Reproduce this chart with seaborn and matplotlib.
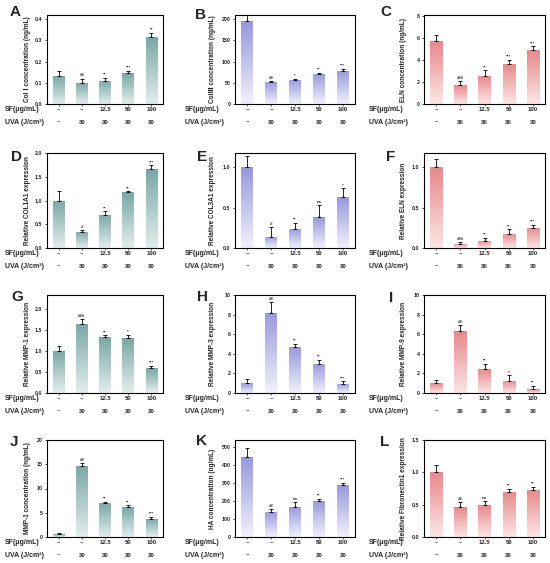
import numpy as np
import pandas as pd
import matplotlib
matplotlib.use("Agg")
import matplotlib.pyplot as plt
import seaborn as sns
from matplotlib.colors import LinearSegmentedColormap
from matplotlib.ticker import FormatStrFormatter

# ── Data ───────────────────────────────────────────────────────────────────
groups = ["ctrl", "uva", "sf12.5", "sf50", "sf100"]
sf_doses = ["–", "–", "12.5", "50", "100"]
uva_doses = ["–", "30", "30", "30", "30"]

colI_mean = [0.13, 0.10, 0.11, 0.145, 0.315]
colI_sd = [0.025, 0.02, 0.012, 0.012, 0.02]
colI_sig = ["", "##", "**", "***", "**"]

colIII_mean = [195, 52, 57, 71, 79]
colIII_sd = [15, 3, 3, 3, 4]
colIII_sig = ["", "##", "*", "**", "***"]

eln_mean = [5.7, 1.7, 2.55, 3.65, 4.9]
eln_sd = [0.55, 0.35, 0.5, 0.4, 0.35]
eln_sig = ["", "###", "**", "***", "***"]

col1a1_mean = [1.0, 0.34, 0.70, 1.17, 1.66]
col1a1_sd = [0.2, 0.03, 0.07, 0.02, 0.08]
col1a1_sig = ["", "#", "**", "**", "***"]

col3a1_mean = [1.0, 0.14, 0.24, 0.38, 0.63]
col3a1_sd = [0.14, 0.12, 0.07, 0.15, 0.11]
col3a1_sig = ["", "#", "**", "ns", "*"]

eln_rel_mean = [1.0, 0.05, 0.09, 0.18, 0.25]
eln_rel_sd = [0.1, 0.02, 0.04, 0.05, 0.04]
eln_rel_sig = ["", "###", "**", "**", "***"]

mmp1_mean = [1.0, 1.65, 1.32, 1.30, 0.59]
mmp1_sd = [0.12, 0.1, 0.05, 0.08, 0.05]
mmp1_sig = ["", "###", "**", "*", "***"]

mmp3_mean = [1.0, 8.2, 4.7, 3.0, 0.95]
mmp3_sd = [0.45, 1.1, 0.3, 0.35, 0.25]
mmp3_sig = ["", "##", "**", "**", "***"]

mmp9_mean = [1.0, 6.3, 2.4, 1.25, 0.4]
mmp9_sd = [0.35, 0.6, 0.55, 0.55, 0.35]
mmp9_sig = ["", "##", "**", "*", "**"]

mmp1_conc_mean = [0.6, 14.7, 7.0, 6.1, 3.8]
mmp1_conc_sd = [0.2, 0.5, 0.3, 0.4, 0.3]
mmp1_conc_sig = ["", "##", "**", "**", "***"]

ha_mean = [445, 140, 168, 203, 287]
ha_sd = [50, 15, 25, 8, 15]
ha_sig = ["", "##", "ns", "**", "***"]

fn1_mean = [1.0, 0.46, 0.49, 0.70, 0.73]
fn1_sd = [0.12, 0.08, 0.06, 0.04, 0.04]
fn1_sig = ["", "##", "ns", "**", "**"]

ylabels = [
    "Col Ⅰ concentration (ng/mL)", "ColⅢ concentration (ng/mL)", "ELN concentration (ng/mL)",
    "Relative COL1A1 expression", "Relative COL3A1 expression", "Relative ELN expression",
    "Relative MMP-1 expression", "Relative MMP-3 expression", "Relative MMP-9 expression",
    "MMP-1 concentration (ng/mL)", "HA concentration (ng/mL)", "Relative Fibronectin1 expression",
]
letters = list("ABCDEFGHIJKL")

# ── Style ──────────────────────────────────────────────────────────────────
sns.set_style("ticks")
plt.rcParams["font.family"] = ["Liberation Sans", "DejaVu Sans"]
plt.rcParams["font.weight"] = "bold"

teal = ("#e3eeed", "#79a7a5")
purple = ("#f1f1fc", "#9898da")
pink = ("#fce6e6", "#e5898b")
col_colors = [teal, purple, pink]

# layout in pixels (figure is 550 x 563)
W, H = 550, 563
col_left = [47, 235, 424]
col_width = [116, 120, 121]
row_span = [(15, 104), (153, 248), (295, 393), (440, 537)]
row_label_dx = [-42, -50, -55]
ylabel_x = [-0.14, -0.155, -0.14]
letter_xy = [(10, 5), (195, 8), (380, 5),
             (11, 150), (197, 150), (386, 150),
             (11, 290), (197, 290), (389, 291),
             (10, 435), (196, 434), (380, 435)]

panels = [
    (colI_mean, colI_sd, colI_sig, (0, 0.42), np.arange(0, 0.41, 0.1), "%.1f"),
    (colIII_mean, colIII_sd, colIII_sig, (0, 210), np.arange(0, 201, 50), "%d"),
    (eln_mean, eln_sd, eln_sig, (0, 8.1), np.arange(0, 8.1, 2), "%d"),
    (col1a1_mean, col1a1_sd, col1a1_sig, (0, 2.0), np.arange(0, 2.01, 0.5), "%.1f"),
    (col3a1_mean, col3a1_sd, col3a1_sig, (0, 1.18), np.arange(0, 1.01, 0.5), "%.1f"),
    (eln_rel_mean, eln_rel_sd, eln_rel_sig, (0, 1.18), np.arange(0, 1.01, 0.5), "%.1f"),
    (mmp1_mean, mmp1_sd, mmp1_sig, (0, 2.33), np.arange(0, 2.01, 0.5), "%.1f"),
    (mmp3_mean, mmp3_sd, mmp3_sig, (0, 10), np.arange(0, 10.1, 2), "%d"),
    (mmp9_mean, mmp9_sd, mmp9_sig, (0, 10), np.arange(0, 10.1, 2), "%d"),
    (mmp1_conc_mean, mmp1_conc_sd, mmp1_conc_sig, (0, 20), np.arange(0, 20.1, 5), "%d"),
    (ha_mean, ha_sd, ha_sig, (0, 540), np.arange(0, 501, 100), "%d"),
    (fn1_mean, fn1_sd, fn1_sig, (0, 1.5), np.arange(0, 1.51, 0.5), "%.1f"),
]

fig = plt.figure(figsize=(W / 100, H / 100), dpi=100)
gradient = np.linspace(0, 1, 256).reshape(-1, 1)

for k, (mean, sd, sig, ylim, yticks, fmt) in enumerate(panels):
    r, c = divmod(k, 3)
    top, bot = row_span[r]
    ax = fig.add_axes([col_left[c] / W, 1 - bot / H, col_width[c] / W, (bot - top) / H])

    df = pd.DataFrame({"group": groups, "value": mean})
    sns.barplot(data=df, x="group", y="value", color=col_colors[c][1],
                width=0.5, errorbar=None, ax=ax, zorder=2)

    # gradient fill, light at the bottom to saturated at the top
    cmap = LinearSegmentedColormap.from_list("g%d" % k, list(col_colors[c]))
    for patch in ax.patches:
        x0, y0 = patch.get_x(), patch.get_y()
        w, h = patch.get_width(), patch.get_height()
        im = ax.imshow(gradient, extent=[x0, x0 + w, y0, y0 + h], origin="lower",
                       aspect="auto", cmap=cmap, zorder=2)
        im.set_clip_path(patch)
        patch.set_facecolor("none")
        patch.set_edgecolor("none")

    xs = np.arange(len(groups))
    ax.errorbar(xs, mean, yerr=[np.zeros(len(sd)), sd], fmt="none", ecolor="black",
                elinewidth=0.6, capsize=1.3, capthick=0.6, zorder=3)
    for x, m, s, t in zip(xs, mean, sd, sig):
        if t:
            ax.annotate(t, xy=(x, m + s), xytext=(0, 0.8), textcoords="offset points",
                        ha="center", va="bottom", fontsize=3.2, fontweight="bold")

    ax.set_xlim(-0.5, len(groups) - 0.5)
    ax.set_ylim(*ylim)
    ax.set_yticks(yticks)
    ax.yaxis.set_major_formatter(FormatStrFormatter(fmt))
    ax.tick_params(axis="y", labelsize=3.8, length=1.8, width=0.6, pad=1.5)
    ax.tick_params(axis="x", length=1.2, width=0.5, labelsize=4.3, pad=1.2)
    ax.set_xticks(xs)
    ax.set_xticklabels(sf_doses, fontweight="bold")
    for lab in ax.get_yticklabels():
        lab.set_fontweight("bold")
    ax.set_xlabel("")
    ax.set_ylabel(ylabels[k], fontsize=4.7, fontweight="bold")
    ax.yaxis.set_label_coords(ylabel_x[c], 0.5)
    for sp in ax.spines.values():
        sp.set_visible(True)
        sp.set_linewidth(0.8)
        sp.set_color("black")

    # UVA row under the SF tick labels
    for x, u in zip(xs, uva_doses):
        ax.annotate(u, xy=(x, 0), xycoords=("data", "axes fraction"), xytext=(0, -13),
                    textcoords="offset points", ha="center", va="center",
                    fontsize=4.3, fontweight="bold")
    ax.annotate("SF(μg/mL)", xy=(0, 0), xycoords="axes fraction",
                xytext=(row_label_dx[c] * 0.72, -4), textcoords="offset points",
                ha="left", va="center", fontsize=5.0, fontweight="bold")
    ax.annotate("UVA (J/cm²)", xy=(0, 0), xycoords="axes fraction",
                xytext=(row_label_dx[c] * 0.72, -13), textcoords="offset points",
                ha="left", va="center", fontsize=5.0, fontweight="bold")

    lx, ly = letter_xy[k]
    fig.text(lx / W, 1 - ly / H, letters[k], ha="left", va="top",
             fontsize=11, fontweight="bold")

fig.savefig("out.png", dpi=100)
